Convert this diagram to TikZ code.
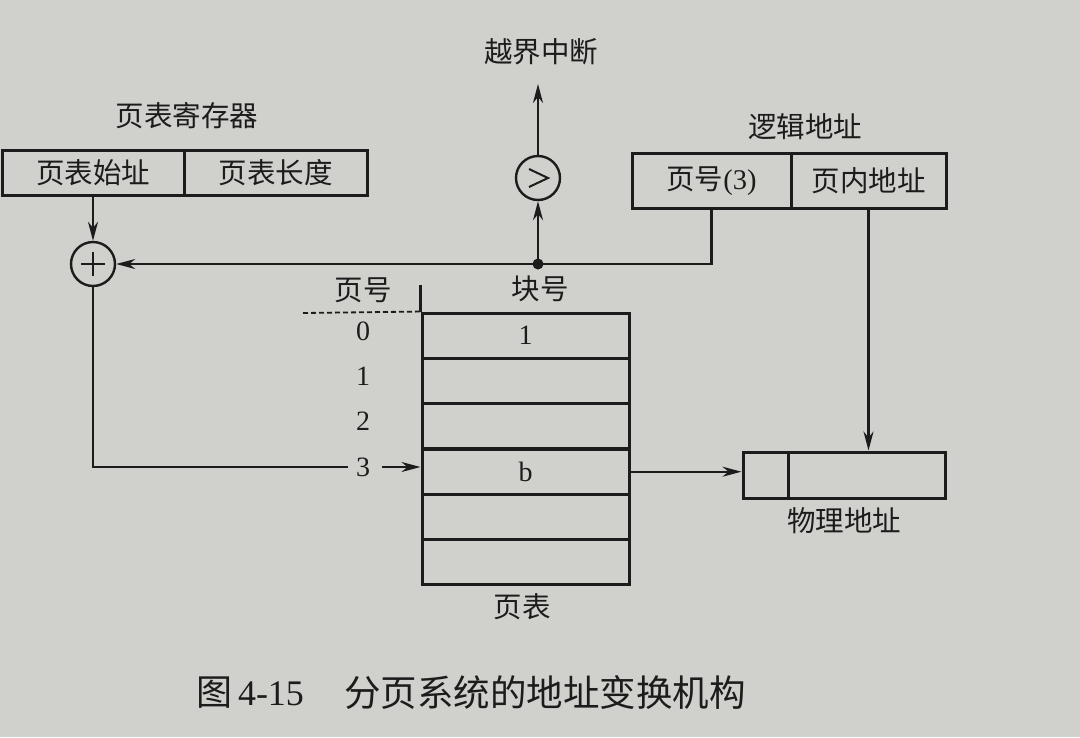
\documentclass[tikz,border=0pt]{standalone}
\usepackage{fontspec}
\setmainfont{Liberation Serif}
\newfontfamily\cjk{Noto Sans CJK SC}
\usetikzlibrary{arrows.meta}
\definecolor{bgc}{RGB}{208,208,204}
\definecolor{ink}{RGB}{28,28,28}
\tikzset{
  cell/.style={draw=ink, line width=3pt, rectangle, inner sep=0pt, text=ink, font=\cjk\fontsize{28.5}{32}\selectfont},
  lbl/.style={text=ink, inner sep=0pt, font=\cjk\fontsize{28.5}{32}\selectfont},
  num/.style={text=ink, inner sep=0pt, font=\fontsize{28}{32}\selectfont},
  op/.style={draw=ink, line width=2.4pt, circle, minimum size=44pt, inner sep=0pt, text=ink},
  conn/.style={draw=ink, line width=2.2pt},
  arr/.style={conn, -{Stealth[length=19pt,width=10pt,inset=6pt]}},
}
\begin{document}
\begin{tikzpicture}[x=1pt,y=-1pt]
\fill[bgc] (0,0) rectangle (1080,737);
\useasboundingbox (0,0) rectangle (1080,737);

% page table register
\node[lbl] (regt) at (187,116) {页表寄存器};
\node[cell, minimum width=182pt, minimum height=45pt] (ptstart) at (93,172.5) {页表始址};
\node[cell, minimum width=183pt, minimum height=45pt] (ptlen) at (275.5,172.5) {页表长度};

% adder
\node[op] (plus) at (93,264) {};
\draw[ink, line width=2pt] ([xshift=-12pt]plus.center) -- ([xshift=12pt]plus.center)
  ([yshift=-12pt]plus.center) -- ([yshift=12pt]plus.center);

% comparator
\node[op] (cmp) at (538,178) {};
\draw[ink, line width=2pt] ([shift={(-9pt,-9pt)}]cmp.center) -- ([shift={(10pt,0pt)}]cmp.center) -- ([shift={(-9pt,9pt)}]cmp.center);
\node[lbl] (intr) at (541,52) {越界中断};
\coordinate (intrend) at (538,84);

% logical address
\node[lbl] (lat) at (805,127) {逻辑地址};
\node[cell, minimum width=159pt, minimum height=55pt] (lpn) at (711.5,181) {页号\fontspec{Liberation Serif}(3)};
\node[cell, minimum width=155pt, minimum height=55pt] (loff) at (868.5,181) {页内地址};

% junction
\coordinate (junc) at (538,264);
\fill[ink] (junc) circle (5.5pt);

% page table
\node[lbl] (hpn) at (363,290) {页号};
\node[lbl] (hbn) at (540,289) {块号};
\foreach \i/\yc in {0/335.7,1/381,2/426.3,3/471.7,4/517,5/562.3}{
  \node[cell, minimum width=207pt, minimum height=45.33pt] (r\i) at (525.5,\yc) {};
}
\node[num] at (r0) {1};
\node[num] at (r3) {b};
\draw[conn, line width=2.4pt] (r0.north west) -- ++(0,-27);
\draw[ink, line width=1.8pt, dashed, dash pattern=on 5pt off 3pt] (303,313) -- (r0.north west);
\node[num] (n0) at (363,331) {0};
\node[num] (n1) at (363,376) {1};
\node[num] (n2) at (363,421) {2};
\node[num] (n3) at (363,467) {3};
\node[lbl] (ptl) at (522,607) {页表};

% physical address
\node[cell, minimum width=45pt, minimum height=46pt] (pa1) at (765.5,475) {};
\node[cell, minimum width=157pt, minimum height=46pt] (pa2) at (866.5,475) {};
\node[lbl] (pal) at (844,521) {物理地址};

% connectors
\draw[arr] (ptstart.south) -- (plus.north);
\draw[arr] (lpn.south) |- (plus.east);
\draw[arr] (junc) -- (cmp.south);
\draw[arr] (cmp.north) -- (intrend);
\draw[arr] (loff.south) -- (loff.south |- pa2.north);
\draw[conn] (plus.south) |- ([xshift=-8pt]n3.west);
\draw[arr, shorten <=12pt] (n3.east) -- (n3.east -| r3.west);
\draw[arr] (r3.east) -- (r3.east -| pa1.west);

% caption
\node[text=ink, inner sep=0pt, font=\fontsize{36}{40}\selectfont] (capnum) at (250,693) {{\cjk 图}\,4-15};
\node[text=ink, inner sep=0pt, font=\cjk\fontsize{36.5}{40}\selectfont] (cap) at (545,693) {分页系统的地址变换机构};
\end{tikzpicture}
\end{document}
